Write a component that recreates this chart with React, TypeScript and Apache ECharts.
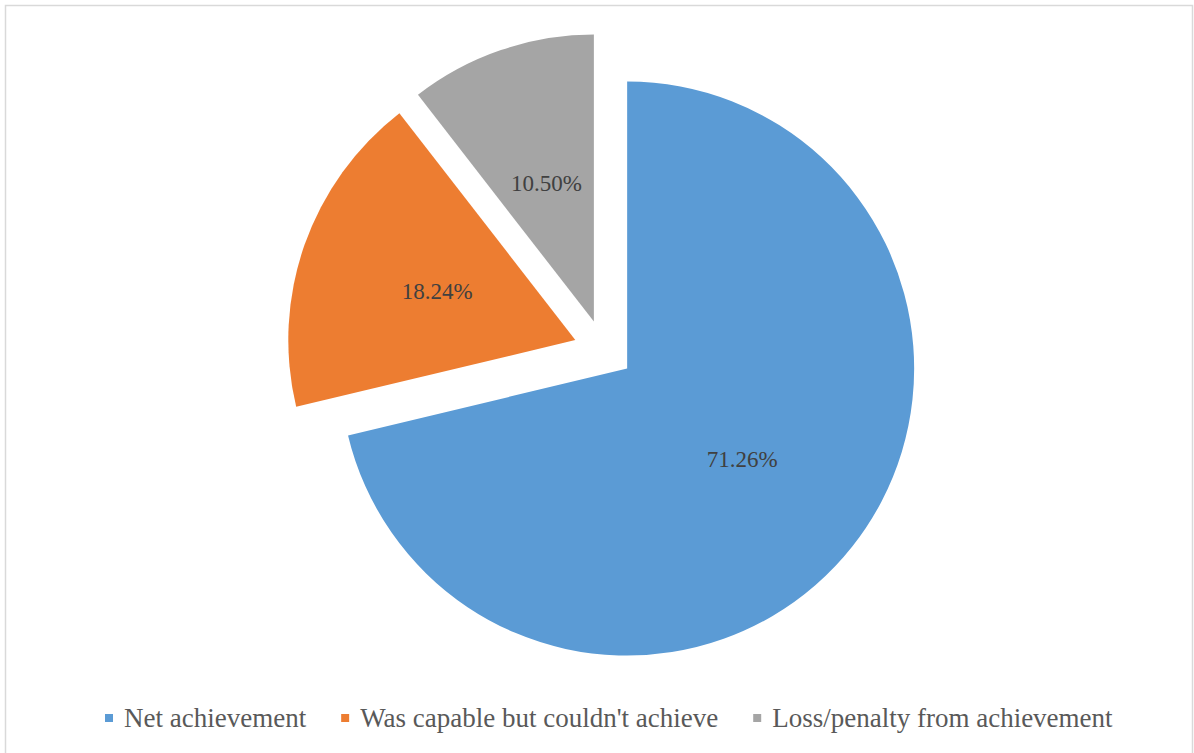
import React, { useEffect, useRef } from "react";
import * as echarts from "echarts";

const categories = ["Net achievement", "Was capable but couldn't achieve", "Loss/penalty from achievement"];
const shares = [71.26, 18.24, 10.5];
const colors = ["#5B9BD5", "#ED7D31", "#A5A5A5"];

const SERIF = "Liberation Serif";

export default function App() {
  const ref = useRef<HTMLDivElement>(null);
  useEffect(() => {
    if (!ref.current) return;
    const chart = echarts.init(ref.current, undefined, { renderer: "svg" });
    chart.setOption({
      animation: false,
      backgroundColor: "#ffffff",
      textStyle: { fontFamily: SERIF },
      graphic: [
        {
          type: "rect",
          shape: { x: 5.5, y: 5.5, width: 1187, height: 800 },
          style: { fill: "none", stroke: "#d9d9d9", lineWidth: 1.5 },
          silent: true,
        },
      ],
      legend: {
        left: 105,
        top: 704.5,
        padding: 0,
        icon: "rect",
        itemWidth: 8,
        itemHeight: 8,
        itemGap: 35,
        selectedMode: false,
        textStyle: {
          fontFamily: SERIF,
          fontSize: 27,
          color: "#595959",
          padding: [0, 0, 0, 6],
        },
        data: categories,
      },
      series: [
        {
          type: "pie",
          center: [603.6, 350],
          radius: 287,
          startAngle: 90,
          clockwise: true,
          selectedMode: "multiple",
          selectedOffset: 30,
          avoidLabelOverlap: false,
          emphasis: { disabled: true },
          select: { itemStyle: { borderWidth: 0 } },
          itemStyle: { borderWidth: 0 },
          label: {
            show: true,
            position: "inside",
            fontFamily: SERIF,
            fontSize: 23,
            color: "#404040",
            formatter: (p: any) => Number(p.value).toFixed(2) + "%",
          },
          labelLine: { show: false },
          data: categories.map((name, i) => ({
            name,
            value: shares[i],
            selected: true,
            itemStyle: { color: colors[i] },
          })),
        },
      ],
    });
    return () => chart.dispose();
  }, []);
  return (
    <div
      ref={ref}
      style={{ position: "absolute", left: 0, top: 0, width: 1194, height: 753 }}
    />
  );
}
